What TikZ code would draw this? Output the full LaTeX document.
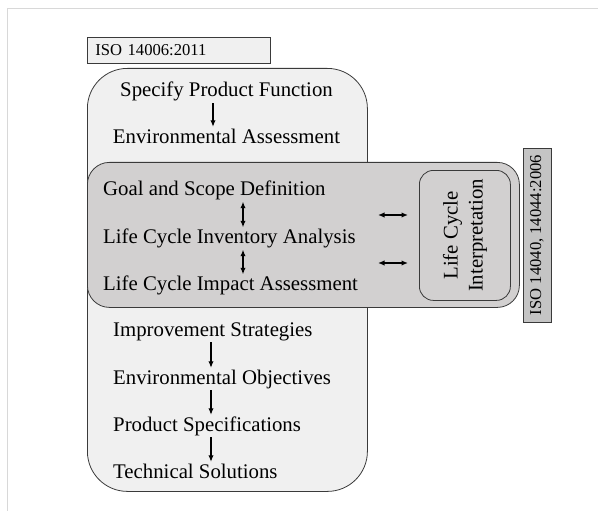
\documentclass[tikz,border=0pt]{standalone}
\usepackage{fontspec}
\setmainfont{Liberation Serif}
\usetikzlibrary{arrows.meta, positioning, calc}
\definecolor{paneback}{HTML}{F0F0F0}
\definecolor{lcaback}{HTML}{D2D0D0}
\definecolor{stdback}{HTML}{C4C4C4}
\definecolor{edge}{HTML}{3A3A3A}
\definecolor{frameline}{HTML}{D8D8D8}
\tikzset{
	panel/.style={draw=edge, line width=0.8pt, inner sep=0pt, anchor=north west},
	line/.style={draw, line width=1.3pt, -{Latex[length=6.5pt, width=5.5pt]}},
	dline/.style={draw, line width=1.3pt, {Latex[length=6.5pt, width=5.5pt]}-{Latex[length=6.5pt, width=5.5pt]}}
}

\begin{document}
\begin{tikzpicture}[
		x=1pt, y=-1pt,
		stage/.style={inner sep=0pt, text height=14pt, text depth=4pt, font=\fontsize{20.8}{25}\selectfont},
		stdlabel/.style={font=\fontsize{16.6}{20}\selectfont},
		link/.style={line, shorten <=2pt, shorten >=2pt}
		]
		\useasboundingbox (0,0) rectangle (598,511);
		
		% --- Page frame ---
		\draw[frameline, line width=1pt] (598,9) -- (7,9) -- (7,511);
		
		% --- Boxes ---
		\node[panel, stdlabel, fill=paneback, minimum height=26pt, text width=167pt, inner xsep=8pt, align=left] (isoeco) at (87,37) {ISO 14006:2011};
		\node[panel, fill=paneback, rounded corners=40pt, minimum width=280pt, minimum height=423pt] (designbox) at (87,68) {};
		\node[panel, fill=lcaback, rounded corners=22pt, minimum width=432pt, minimum height=145pt] (lcabox) at (87,162) {};
		\node[panel, fill=lcaback, rounded corners=14pt, minimum width=91pt, minimum height=130pt] (interpbox) at (419,170) {};
		\node[rotate=90, align=center, inner sep=0pt, font=\fontsize{20.8}{25}\selectfont] (interp) at (interpbox.center) {Life Cycle\\Interpretation};
		\node[draw=edge, line width=0.8pt, fill=stdback, stdlabel, rotate=90, inner sep=0pt, minimum width=174pt, minimum height=28pt] (isolca) at (537,235) {ISO 14040, 14044:2006};
		
		% --- Top steps ---
		\node[stage, anchor=base] (specify) at (226.5,97) {Specify Product Function};
		\node[stage, anchor=base] (envassess) at (226.5,143) {Environmental Assessment};
		
		% --- LCA steps ---
		\node[stage, anchor=base west] (goal) at (103,195.5) {Goal and Scope Definition};
		\node[stage, anchor=base west] (inventory) at (103,243.5) {Life Cycle Inventory Analysis};
		\node[stage, anchor=base west] (impact) at (103,290.5) {Life Cycle Impact Assessment};
		
		% --- Lower steps ---
		\node[stage, anchor=base west] (improve) at (113,336) {Improvement Strategies};
		\node[stage, anchor=base west] (envobj) at (113,384) {Environmental Objectives};
		\node[stage, anchor=base west] (prodspec) at (113,431) {Product Specifications};
		\node[stage, anchor=base west] (techsol) at (113,478) {Technical Solutions};
		
		% --- Arrow columns ---
		\coordinate (topcol) at (213,0);
		\coordinate (lcacol) at (243,0);
		\coordinate (lowcol) at (211,0);
		\coordinate (fb1) at (378,215);
		\coordinate (fb2) at (378,263);
		
		% --- Connectors ---
		\draw[link] (specify.south -| topcol) -- (envassess.north -| topcol);
		\draw[link, dline] (goal.south -| lcacol) -- (inventory.north -| lcacol);
		\draw[link, dline] (inventory.south -| lcacol) -- (impact.north -| lcacol);
		\draw[link] (improve.south -| lowcol) -- (envobj.north -| lowcol);
		\draw[link] (envobj.south -| lowcol) -- (prodspec.north -| lowcol);
		\draw[link] (prodspec.south -| lowcol) -- (techsol.north -| lowcol);
		
		% feedback to interpretation
		\draw[dline, shorten >=11pt] (fb1) -- (fb1 -| interpbox.west);
		\draw[dline, shorten >=11pt] (fb2) -- (fb2 -| interpbox.west);
		
	\end{tikzpicture}
\end{document}
